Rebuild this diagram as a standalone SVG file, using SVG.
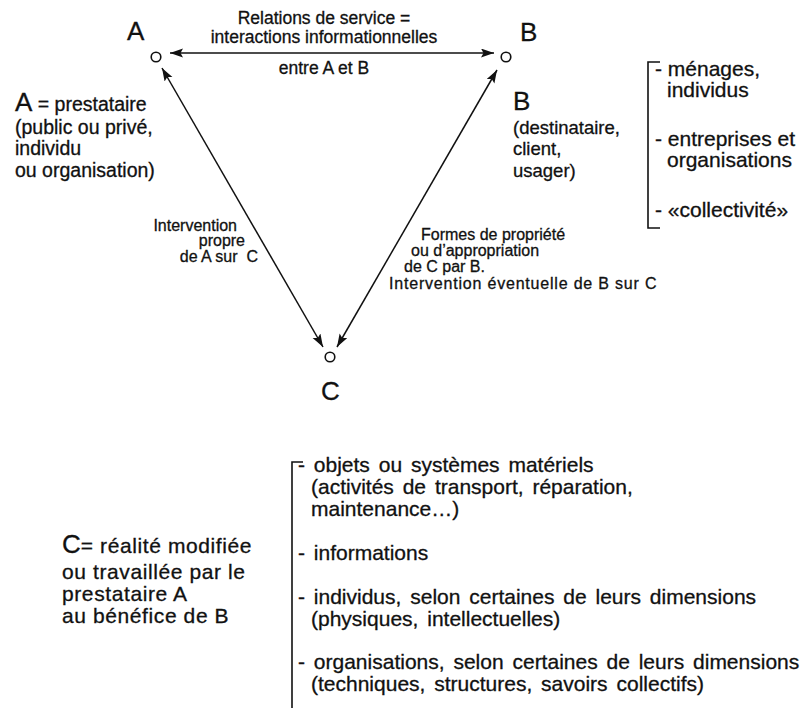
<svg xmlns="http://www.w3.org/2000/svg" width="808" height="713" viewBox="0 0 808 713">
<style>
text{font-family:"Liberation Sans",Arial,sans-serif;fill:#111;stroke:#111;stroke-width:0.3}
.big{font-size:26px}
.t{font-size:17.5px}
.e{font-size:16px}
.a{font-size:19.5px}
.b{font-size:18.5px}
.l{font-size:21px}
.c{font-size:21px;letter-spacing:0.6px}
.cl{font-size:21px;word-spacing:3px}
.node{fill:#fff;stroke:#111;stroke-width:1.6}
.conn{stroke:#111;stroke-width:1.5;fill:none;marker-start:url(#ah);marker-end:url(#ah)}
.br{stroke:#111;stroke-width:1.6;fill:none}
</style>
<defs>
<marker id="ah" markerUnits="userSpaceOnUse" markerWidth="14" markerHeight="10" refX="13" refY="4.5" orient="auto-start-reverse">
<path d="M0,0 L13,4.5 L0,9 L2.5,4.5 z" fill="#111"/>
</marker>
</defs>
<g id="connectors">
<line class="conn" x1="170" y1="53" x2="494" y2="53"/>
<line class="conn" x1="162" y1="68" x2="323" y2="347"/>
<line class="conn" x1="497" y1="70" x2="337" y2="347"/>
</g>
<g id="label-AB">
<text class="t" x="324" y="23.5" text-anchor="middle">Relations de service =</text>
<text class="t" x="324" y="43" text-anchor="middle">interactions informationnelles</text>
<text class="t" x="324" y="74" text-anchor="middle">entre A et B</text>
</g>
<g id="label-AC">
<text class="e" x="237" y="231" text-anchor="end">Intervention</text>
<text class="e" x="245" y="246" text-anchor="end">propre</text>
<text class="e" x="258" y="262" text-anchor="end" xml:space="preserve">de A sur  C</text>
</g>
<g id="label-BC">
<text class="e" x="421" y="240">Formes de propriété</text>
<text class="e" x="411" y="256">ou d’appropriation</text>
<text class="e" x="404" y="272">de C par B.</text>
<text class="e" x="389" y="289" style="letter-spacing:0.8px">Intervention éventuelle de B sur C</text>
</g>
<g id="node-A">
<circle class="node" cx="156" cy="57" r="4.8"/>
<text class="big" x="127" y="40">A</text>
<text x="15" y="111"><tspan class="big">A</tspan><tspan class="a"> = prestataire</tspan></text>
<text class="a" x="15" y="134">(public ou privé,</text>
<text class="a" x="15" y="155">individu</text>
<text class="a" x="15" y="177">ou organisation)</text>
</g>
<g id="node-B">
<circle class="node" cx="506" cy="57" r="4.8"/>
<text class="big" x="520" y="41">B</text>
<text class="big" x="513" y="110">B</text>
<text class="b" x="513" y="134">(destinataire,</text>
<text class="b" x="513" y="155">client,</text>
<text class="b" x="513" y="177">usager)</text>
</g>
<g id="list-B">
<path class="br" d="M660,62 H648 V228 H660"/>
<text class="l" x="655" y="76">- ménages,</text>
<text class="l" x="667" y="97">individus</text>
<text class="l" x="655" y="146">- entreprises et</text>
<text class="l" x="667" y="167">organisations</text>
<text class="l" x="655" y="217">- «collectivité»</text>
</g>
<g id="node-C">
<circle class="node" cx="330" cy="357" r="4.8"/>
<text class="big" x="321" y="400">C</text>
<text x="62" y="553"><tspan class="big">C</tspan><tspan class="c">= réalité modifiée</tspan></text>
<text class="c" x="62" y="579">ou travaillée par le</text>
<text class="c" x="62" y="601">prestataire A</text>
<text class="c" x="62" y="623">au bénéfice de B</text>
</g>
<g id="list-C">
<path class="br" d="M303,462 H292 V708"/>
<text class="cl" x="298" y="472">- objets ou systèmes matériels</text>
<text class="cl" x="311" y="494">(activités de transport, réparation,</text>
<text class="cl" x="311" y="516">maintenance…)</text>
<text class="cl" x="298" y="560">- informations</text>
<text class="cl" x="298" y="604">- individus, selon certaines de leurs dimensions</text>
<text class="cl" x="311" y="626">(physiques, intellectuelles)</text>
<text class="cl" x="298" y="669">- organisations, selon certaines de leurs dimensions</text>
<text class="cl" x="311" y="691">(techniques, structures, savoirs collectifs)</text>
</g>
</svg>
